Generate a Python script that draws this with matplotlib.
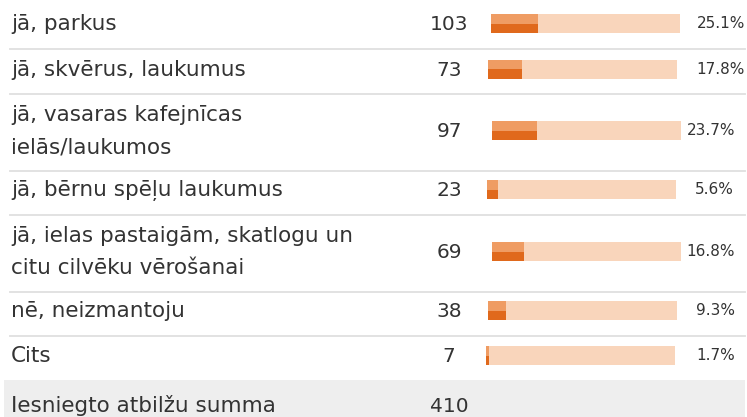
import matplotlib
matplotlib.use("Agg")
from matplotlib import pyplot as plt

# survey answers
labels = ["jā, parkus",
          "jā, skvērus, laukumus",
          "jā, vasaras kafejnīcas\nielās/laukumos",
          "jā, bērnu spēļu laukumus",
          "jā, ielas pastaigām, skatlogu un\ncitu cilvēku vērošanai",
          "nē, neizmantoju",
          "Cits"]
counts = [103, 73, 97, 23, 69, 38, 7]
percents = [25.1, 17.8, 23.7, 5.6, 16.8, 9.3, 1.7]
total_label = "Iesniegto atbilžu summa"
total = 410

# layout in pixels (y grows downwards)
W, H = 747, 417
row_mid = [23.5, 69, 130.5, 189.5, 251.5, 310.5, 355.5]
row_seps = [48.5, 93.5, 170.5, 214.5, 291.5, 335.5]
line_gap = 33
bar_left = [491, 488, 492, 487, 492, 488, 486]
bar_len = 189
bar_h = 19
pct_right = [745, 745, 735, 734, 735, 735, 735]
count_x = 449
label_sz = 15.5

txt = "#333333"
track = "#f9d5bb"
fill_dark = "#e0691c"
fill_light = "#ef9c63"

fig = plt.figure(figsize=(W / 100, H / 100), dpi=100)
ax = fig.add_axes([0, 0, 1, 1])
ax.set_xlim(0, W)
ax.set_ylim(H, 0)
ax.axis("off")

for y in row_seps:
    ax.plot([10, 745], [y, y], color="#dfdfdf", lw=1.3)

# summary row background
ax.barh(398.5, 741, left=4, height=37, color="#eeeeee")

for i, (lab, n, p) in enumerate(zip(labels, counts, percents)):
    y = row_mid[i]
    lines = lab.split("\n")
    first = y + 6.5 - (len(lines) - 1) * line_gap / 2
    for k, line in enumerate(lines):
        ax.text(11, first + k * line_gap, line, fontsize=label_sz, color=txt,
                va="baseline", ha="left")
    ax.text(count_x, y + 1, str(n), fontsize=14.5, color=txt,
            ha="center", va="center")
    # background track, then two-tone filled part
    ax.barh(y, bar_len, left=bar_left[i], height=bar_h, color=track)
    w = bar_len * p / 100
    ax.barh(y + bar_h / 4, w, left=bar_left[i], height=bar_h / 2,
            color=fill_dark)
    ax.barh(y - bar_h / 4, w, left=bar_left[i], height=bar_h / 2,
            color=fill_light)
    ax.text(pct_right[i], y, f"{p:.1f}%", fontsize=11, color=txt,
            ha="right", va="center")

ax.text(11, 411.5, total_label, fontsize=label_sz, color=txt, va="baseline")
ax.text(count_x, 411.5, str(total), fontsize=14.5, color=txt,
        ha="center", va="baseline")

plt.savefig("out.png", dpi=100)
